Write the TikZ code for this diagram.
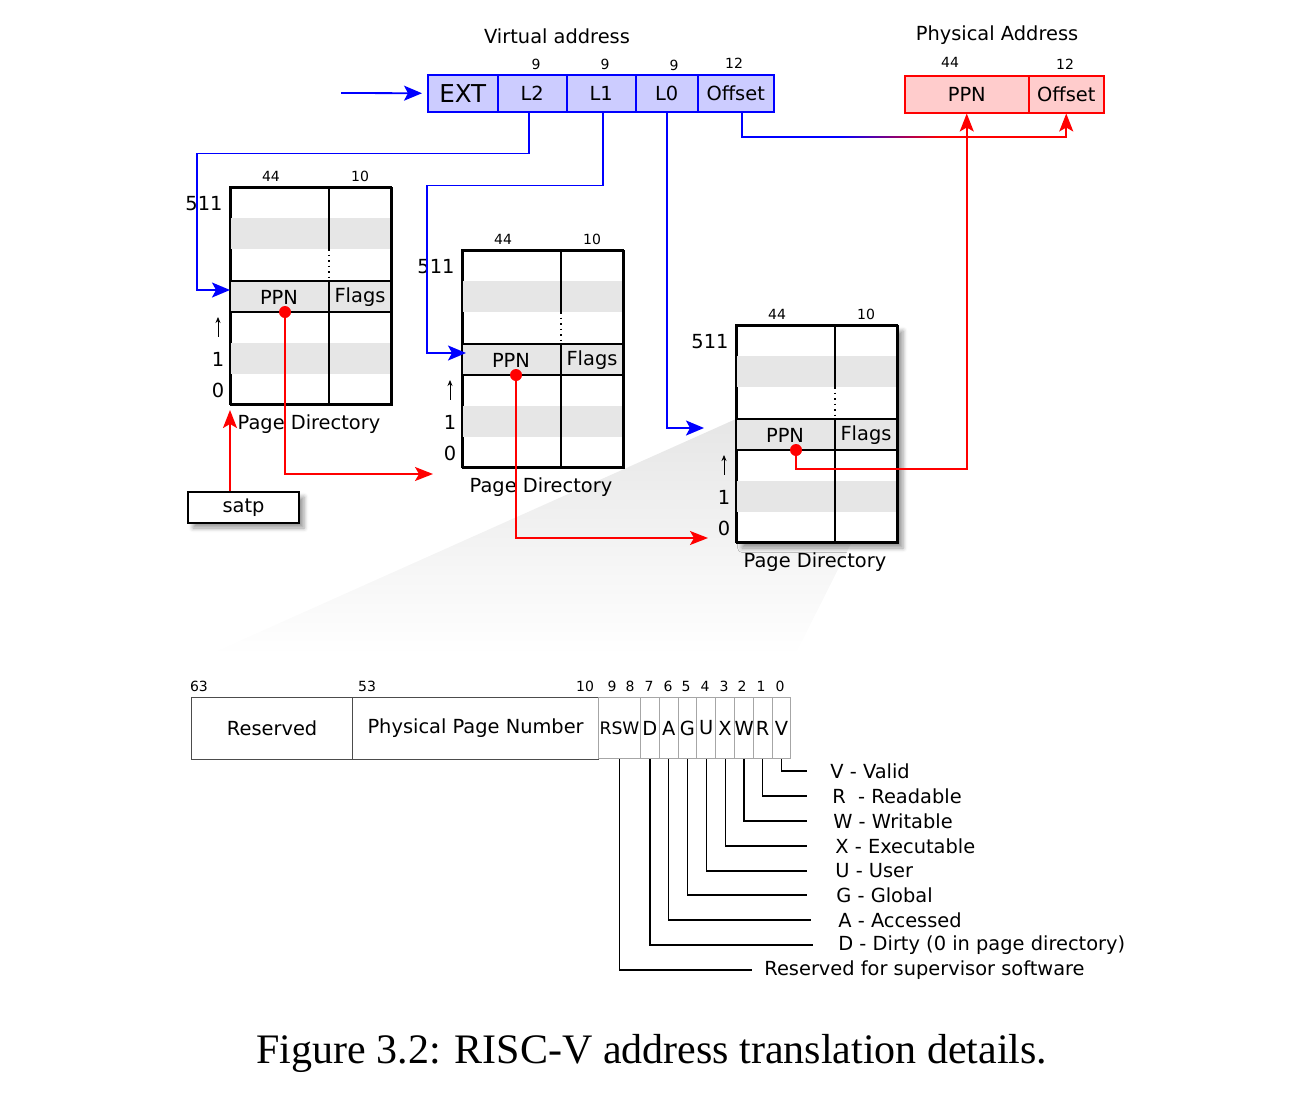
\documentclass[tikz,border=0pt]{standalone}
\usepackage{fontspec}
\setmainfont{DejaVu Sans}
\newfontfamily\capfont{Liberation Serif}
\usetikzlibrary{arrows.meta,calc,shadows.blur}

\definecolor{vablue}{RGB}{0,0,255}
\definecolor{vafill}{RGB}{204,204,255}
\definecolor{pared}{RGB}{255,0,0}
\definecolor{pafill}{RGB}{255,204,204}
\definecolor{band}{RGB}{230,230,230}

\tikzset{
  every node/.style={font=\fontsize{9.7}{11.6}\selectfont},
  bitnum/.style={font=\fontsize{7}{8.4}\selectfont},
  vabox/.style={draw=vablue, fill=vafill, line width=0.75pt, minimum height=18.5pt,
    inner sep=0pt, anchor=north west},
  pabox/.style={draw=pared, fill=pafill, line width=0.75pt, minimum height=18.5pt,
    inner sep=0pt, anchor=north west},
  pdframe/.style={draw, fill=white, line width=1pt, minimum width=80.5pt,
    minimum height=108.5pt, inner sep=0pt, anchor=north west},
  pdline/.style={line width=0.75pt},
  vaconn/.style={draw=vablue, line width=0.9pt, -{Stealth[length=9pt,width=7.5pt,inset=2pt]}},
  paconn/.style={draw=pared, line width=0.9pt, -{Stealth[length=9pt,width=7pt,inset=2pt]}},
  ptebox/.style={draw=black!70, line width=0.6pt, minimum height=31pt, inner sep=0pt,
    anchor=north west},
  bitbox/.style={draw=black!35, line width=0.5pt, minimum height=30.5pt, inner sep=0pt,
    anchor=north west},
  legend/.style={anchor=west, inner xsep=0pt},
  legline/.style={line width=0.6pt},
}

% page directory: name, x, y (top left), x of the PPN dot, extra frame options
\newcommand\pagedir[5]{%
  \begin{scope}[shift={(#2,#3)}]
    \node[pdframe,#5] (#1) at (0,0) {};
    \fill[band] (0,31) rectangle (161,62);
    \fill[band] (0,94) rectangle (161,125);
    \fill[band] (0,156) rectangle (161,187);
    \draw[pdline] (0,94) -- (161,94) (0,125) -- (161,125);
    \draw[pdline] (99,0) -- (99,62) (99,94) -- (99,217);
    \draw[pdline,dotted] (99,62) -- (99,94);
    \draw[line width=1pt] (0,0) rectangle (161,217);
    \node[bitnum] (#1-w44) at (41,-11) {44};
    \node[bitnum] (#1-w10) at (130,-11) {10};
    \node (#1-top) at (-26,17) {511};
    \node (#1-one) at (-12,172) {1};
    \node (#1-zero) at (-12,203) {0};
    \coordinate (#1-up) at (-12,130);
    \draw[thin,-{Stealth[length=3pt,width=2.5pt]}] ([yshift=4pt]#1-one.north) -- (#1-up);
    \node (#1-ppn) at (49,110) {PPN};
    \node (#1-flags) at (130,110) {Flags};
    \node (#1-title) at (79,237) {Page Directory};
    \coordinate (#1-in) at (0,103);
    \coordinate (#1-dot) at (#4,125);
    \fill[pared] (#1-dot) circle (3pt);
  \end{scope}}

\begin{document}
\begin{tikzpicture}[x=0.5pt,y=-0.5pt]
  \useasboundingbox (0,0) rectangle (1312,1108);

  % zoom wedge behind the last directory
  \shade[top color=band, bottom color=white] (736,419) -- (898,450) -- (795,655) -- (208,655) -- cycle;

  % virtual address
  \node (vatitle) at (557,36) {Virtual address};
  \node[vabox, minimum width=35pt, font=\fontsize{12.3}{14}\selectfont] (ext) at (427,74) {EXT};
  \node[vabox, minimum width=34.5pt] (l2) at (497,74) {L2};
  \node[vabox, minimum width=34.5pt] (l1) at (566,74) {L1};
  \node[vabox, minimum width=31pt] (l0) at (635,74) {L0};
  \node[vabox, minimum width=38pt] (off) at (697,74) {Offset};
  \node[bitnum] (wl2) at (536,64) {9};
  \node[bitnum] (wl1) at (605,64) {9};
  \node[bitnum] (wl0) at (674,65) {9};
  \node[bitnum] (woff) at (734,63) {12};

  % physical address
  \node (patitle) at (997,35) {Physical Address};
  \node[pabox, minimum width=62pt] (pppn) at (904,75) {PPN};
  \node[pabox, minimum width=37.5pt] (poff) at (1028,75) {Offset};
  \node[bitnum] (wpppn) at (950,62) {44};
  \node[bitnum] (wpoff) at (1065,64) {12};

  % the three levels
  \pagedir{pd1}{230}{187}{55}{}
  \pagedir{pd2}{462}{250}{54}{}
  \pagedir{pd3}{736}{325}{60}{blur shadow={shadow xshift=2.5pt,shadow yshift=-2.5pt}}

  \node[draw, fill=white, line width=1pt, minimum width=55.5pt, minimum height=15.5pt,
    inner sep=0pt, anchor=north west, blur shadow={shadow xshift=2.5pt,shadow yshift=-2.5pt}]
    (satp) at (187,491) {satp};

  % index lookups
  \coordinate (vain) at (341,93);
  \draw[vaconn, shorten >=2.5pt] (vain) -- (ext.west);
  \draw[vaconn] ($(l2.south)+(-3,0)$) -- ++(0,41) -| ($(pd1-in)+(-33,0)$) -- (pd1-in);
  \draw[vaconn] ($(l1.south)+(2,0)$) -- ++(0,73) -| ($(pd2-in)+(-35,0)$) -- ([xshift=2pt]pd2-in);
  \draw[vaconn, shorten >=16pt] (l0.south) |- (pd3-in);

  % offset copied straight through
  \coordinate (gradA) at (840,137);
  \coordinate (gradB) at (940,137);
  \draw[vablue, line width=0.9pt] ($(off.south)+(6,0)$) |- (gradA);
  \shade[left color=vablue, right color=pared] ($(gradA)+(0,-0.9)$) rectangle ($(gradB)+(0,0.9)$);
  \draw[paconn] (gradB) -| (poff.south);

  % physical page numbers
  \draw[paconn] (satp.north -| pd1.south west) -- ([yshift=-2pt]pd1.south west);
  \coordinate (pd2-entry) at ($(pd2.south west)+(-29,5)$);
  \coordinate (pd3-entry) at ($(pd3.south west)+(-28,-6)$);
  \draw[paconn] (pd1-dot) |- (pd2-entry);
  \draw[paconn] (pd2-dot) |- (pd3-entry);
  \draw[paconn] (pd3-dot) -- ++(0,19) -| (pppn.south);

  % page table entry
  \node[bitnum] (b63) at (199,686) {63};
  \node[bitnum] (b53) at (367,686) {53};
  \node[bitnum] (b10) at (585,686) {10};
  \node[bitnum] (b9) at (612,686) {9};
  \node[bitnum] (b8) at (630,686) {8};
  \node[bitnum] (b7) at (649,686) {7};
  \node[bitnum] (b6) at (668,686) {6};
  \node[bitnum] (b5) at (686,686) {5};
  \node[bitnum] (b4) at (705,686) {4};
  \node[bitnum] (b3) at (724,686) {3};
  \node[bitnum] (b2) at (742,686) {2};
  \node[bitnum] (b1) at (761,686) {1};
  \node[bitnum] (b0) at (780,686) {0};

  \node[ptebox, minimum width=80.5pt] (reserved) at (191,697) {Reserved};
  \node[ptebox, minimum width=123pt] (ppnfield) at (352,697) {Physical Page Number};
  \node[bitbox, minimum width=21pt, font=\fontsize{8.6}{10}\selectfont] (brsw) at (598,697) {RSW};
  \node[bitbox, minimum width=9.4pt] (bd) at (640,697) {D};
  \node[bitbox, minimum width=9.4pt] (ba) at (658.8,697) {A};
  \node[bitbox, minimum width=9.4pt] (bg) at (677.6,697) {G};
  \node[bitbox, minimum width=9.4pt] (bu) at (696.4,697) {U};
  \node[bitbox, minimum width=9.4pt] (bx) at (715.2,697) {X};
  \node[bitbox, minimum width=9.4pt] (bw) at (734,697) {W};
  \node[bitbox, minimum width=9.4pt] (br) at (752.8,697) {R};
  \node[bitbox, minimum width=9.4pt] (bv) at (771.6,697) {V};

  % flag legend
  \node[legend] (lgv) at (830,771) {V - Valid};
  \node[legend] (lgr) at (832,796) {R~~- Readable};
  \node[legend] (lgw) at (833,821) {W - Writable};
  \node[legend] (lgx) at (835,846) {X - Executable};
  \node[legend] (lgu) at (835,871) {U - User};
  \node[legend] (lgg) at (836,895) {G - Global};
  \node[legend] (lga) at (838,920) {A - Accessed};
  \node[legend] (lgd) at (838,945) {D - Dirty (0 in page directory)};
  \node[legend] (lgrsw) at (764,970) {Reserved for supervisor software};

  \draw[legline] (bv.south) |- ([xshift=-11.5pt]lgv.west);
  \draw[legline] (br.south) |- ([xshift=-12.5pt]lgr.west);
  \draw[legline] (bw.south) |- ([xshift=-13pt]lgw.west);
  \draw[legline] (bx.south) |- ([xshift=-14pt]lgx.west);
  \draw[legline] (bu.south) |- ([xshift=-14pt]lgu.west);
  \draw[legline] (bg.south) |- ([xshift=-14.5pt]lgg.west);
  \draw[legline] (ba.south) |- ([xshift=-13.5pt]lga.west);
  \draw[legline] (bd.south) |- ([xshift=-12.5pt]lgd.west);
  \draw[legline] (brsw.south) |- ([xshift=-6pt]lgrsw.west);

  \node[font=\capfont\fontsize{21}{25}\selectfont] (caption) at (652,1053)
    {Figure 3.2: RISC-V address translation details.};
\end{tikzpicture}
\end{document}
